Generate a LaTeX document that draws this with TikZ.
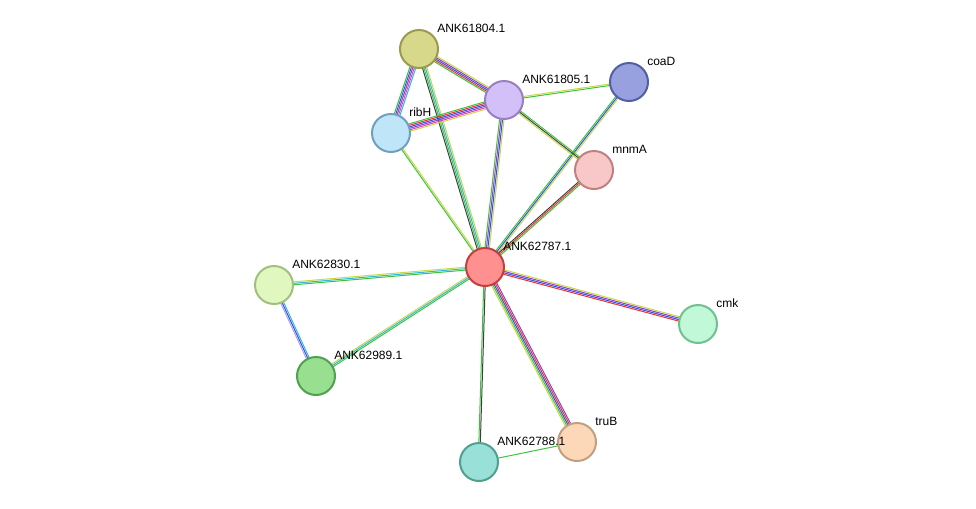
\documentclass[tikz,border=0pt]{standalone}
\usepackage{fontspec}
\setmainfont{Liberation Sans}
\usetikzlibrary{calc,backgrounds}
\definecolor{sy}{HTML}{C8D846}
\definecolor{sg}{HTML}{3CC43C}
\definecolor{sb}{HTML}{3050E0}
\definecolor{sr}{HTML}{F03030}
\definecolor{sk}{HTML}{404040}
\definecolor{sp}{HTML}{9040C0}
\definecolor{sm}{HTML}{E040C0}
\definecolor{sc}{HTML}{30B8D8}
\definecolor{sl}{HTML}{B0A0F0}
\tikzset{
  prot/.style={circle,draw,line width=1.5pt,minimum size=28.5pt,inner sep=0pt},
  lab/.style={anchor=west,font=\fontsize{9}{10}\selectfont,inner sep=0pt},
}
\newcommand{\stredge}[4]{%
  \foreach \c [count=\i] in {#4}{%
    \pgfmathsetmacro{\o}{(\i-(#3+1)/2)*1.1}
    \draw[\c,line width=0.75pt] ($(#1)!\o pt!90:(#2)$) -- ($(#2)!\o pt!-90:(#1)$);
  }}
\begin{document}
\begin{tikzpicture}[x=0.75pt,y=-0.75pt]
\useasboundingbox (0,0) rectangle (976,508);
\node[prot,fill={rgb,255:red,216;green,216;blue,138},draw={rgb,255:red,154;green,154;blue,80}] (n61804) at (419,49) {};
\node[prot,fill={rgb,255:red,212;green,192;blue,248},draw={rgb,255:red,150;green,128;blue,192}] (n61805) at (504,100) {};
\node[prot,fill={rgb,255:red,152;green,160;blue,224},draw={rgb,255:red,80;green,96;blue,160}] (coaD) at (629,82) {};
\node[prot,fill={rgb,255:red,191;green,230;blue,248},draw={rgb,255:red,112;green,160;blue,192}] (ribH) at (391,133) {};
\node[prot,fill={rgb,255:red,248;green,200;blue,200},draw={rgb,255:red,192;green,128;blue,128}] (mnmA) at (594,170) {};
\node[prot,fill={rgb,255:red,255;green,144;blue,144},draw={rgb,255:red,192;green,64;blue,64}] (n62787) at (485,267) {};
\node[prot,fill={rgb,255:red,224;green,248;blue,192},draw={rgb,255:red,160;green,192;blue,128}] (n62830) at (274,285) {};
\node[prot,fill={rgb,255:red,192;green,248;blue,216},draw={rgb,255:red,112;green,192;blue,144}] (cmk) at (698,324) {};
\node[prot,fill={rgb,255:red,152;green,224;blue,144},draw={rgb,255:red,80;green,160;blue,80}] (n62989) at (316,376) {};
\node[prot,fill={rgb,255:red,252;green,216;blue,184},draw={rgb,255:red,192;green,160;blue,128}] (truB) at (577,442) {};
\node[prot,fill={rgb,255:red,152;green,224;blue,216},draw={rgb,255:red,80;green,160;blue,144}] (n62788) at (479,462) {};
\node[lab] at (437,28) {ANK61804.1};
\node[lab] at (522,79) {ANK61805.1};
\node[lab] at (647,61) {coaD};
\node[lab] at (409,112) {ribH};
\node[lab] at (612,149) {mnmA};
\node[lab] at (503,246) {ANK62787.1};
\node[lab] at (292,264) {ANK62830.1};
\node[lab] at (716,303) {cmk};
\node[lab] at (334,355) {ANK62989.1};
\node[lab] at (595,421) {truB};
\node[lab] at (497,441) {ANK62788.1};
\begin{pgfonlayer}{background}
\stredge{n62787}{n61804}{4}{sy,sc,sg,sk}
\stredge{n62787}{ribH}{2}{sy,sg}
\stredge{n62787}{n61805}{4}{sy,sb,sp,sg}
\stredge{n62787}{coaD}{3}{sy,sb,sg}
\stredge{n62787}{mnmA}{3}{sg,sr,sk}
\stredge{n62787}{n62830}{3}{sy,sc,sg}
\stredge{n62787}{n62989}{3}{sy,sc,sg}
\stredge{n62787}{cmk}{4}{sr,sb,sp,sy}
\stredge{n62787}{truB}{5}{sy,sg,sb,sr,sp}
\stredge{n62787}{n62788}{2}{sg,sk}
\stredge{n62788}{truB}{1}{sg}
\stredge{n62830}{n62989}{3}{sl,sb,sc}
\stredge{n61804}{n61805}{5}{sg,sr,sb,sp,sy}
\stredge{n61804}{ribH}{5}{sg,sb,sp,sm,sc}
\stredge{n61805}{ribH}{6}{sg,sr,sb,sp,sm,sy}
\stredge{n61805}{coaD}{2}{sg,sy}
\stredge{n61805}{mnmA}{3}{sy,sk,sg}
\end{pgfonlayer}
\end{tikzpicture}
\end{document}
